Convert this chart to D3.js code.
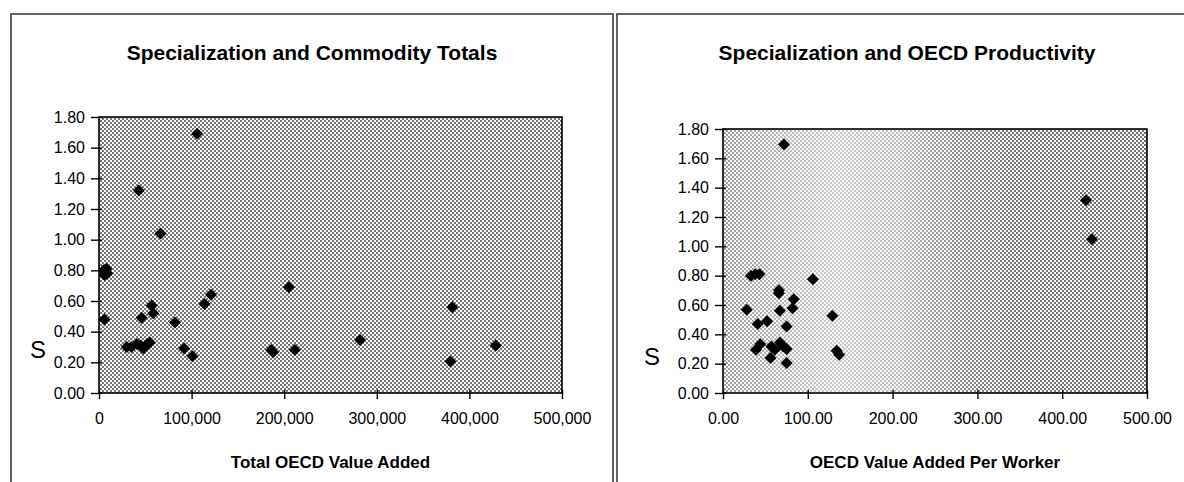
<!DOCTYPE html>
<html><head><meta charset="utf-8">
<script src="https://cdn.jsdelivr.net/npm/d3@7"></script>
<style>
body{margin:0;background:#fff;}
svg{display:block;}
text{font-family:"Liberation Sans",Arial,Helvetica,sans-serif;fill:#000;}
</style>
</head><body>
<svg id="c" width="1184" height="482"></svg>
<script>
// ---- data ----
const leftTitle = "Specialization and Commodity Totals";
const rightTitle = "Specialization and OECD Productivity";
const leftXLabel = "Total OECD Value Added";
const rightXLabel = "OECD Value Added Per Worker";
const yLabel = "S";

const leftX = [5000,8000,6000,9000,5800,43000,66500,46000,57000,58500,82000,92000,101000,114000,121000,30000,35000,41000,45000,48000,52000,55000,106000,186000,188000,211500,205000,282000,381500,379500,428500];
const leftS = [0.80,0.81,0.77,0.78,0.48,1.32,1.04,0.49,0.57,0.52,0.46,0.29,0.24,0.58,0.64,0.30,0.30,0.32,0.31,0.29,0.32,0.33,1.69,0.28,0.265,0.28,0.69,0.345,0.56,0.205,0.31];

const rightX = [33,38,43,66,66,106,28,67,83.5,82,41,52,75,129,44,39,57,67,71,75,56,75,134,137,61,72,428,435];
const rightS = [0.80,0.81,0.81,0.70,0.68,0.775,0.567,0.56,0.64,0.578,0.47,0.49,0.453,0.526,0.333,0.295,0.317,0.344,0.317,0.30,0.238,0.204,0.288,0.26,0.295,1.695,1.315,1.048];

const yTicks = [0,0.2,0.4,0.6,0.8,1.0,1.2,1.4,1.6,1.8];
const leftXTicks = [0,100000,200000,300000,400000,500000];
const rightXTicks = [0,100,200,300,400,500];

// ---- drawing ----
const svg = d3.select("#c");
const defs = svg.append("defs");

const pat = defs.append("pattern").attr("id","dots").attr("patternUnits","userSpaceOnUse")
  .attr("width",4).attr("height",4);
pat.append("rect").attr("width",4).attr("height",4).attr("fill","#f6f6f6");
pat.append("rect").attr("x",0).attr("y",0).attr("width",2).attr("height",2).attr("fill","#767676");
pat.append("rect").attr("x",2).attr("y",2).attr("width",2).attr("height",2).attr("fill","#767676");

const grad = defs.append("linearGradient").attr("id","fadeGrad").attr("x1","0").attr("x2","1").attr("y1","0").attr("y2","0");
[[0,0.7],[0.12,0.5],[0.27,0.32],[0.42,0.45],[0.57,0.85],[0.7,1],[1,1]].forEach(([o,v])=>{
  grad.append("stop").attr("offset",o).attr("stop-color","#fff").attr("stop-opacity",v);
});

// frames
svg.append("path").attr("d","M11,482 L11,14 L613,14 L613,482").attr("fill","none").attr("stroke","#333").attr("stroke-width",1.5);
svg.append("path").attr("d","M617,482 L617,14 L1184,14").attr("fill","none").attr("stroke","#333").attr("stroke-width",1.5);

function chart(cfg){
  const g = svg.append("g");
  const x = d3.scaleLinear().domain([0, cfg.xTicks[cfg.xTicks.length-1]]).range([cfg.left, cfg.right]);
  const y = d3.scaleLinear().domain([0,1.8]).range([cfg.bottom, cfg.top]);
  const w = cfg.right-cfg.left, h = cfg.bottom-cfg.top;

  if(cfg.fade){
    const m = defs.append("mask").attr("id","mask"+cfg.id).attr("maskUnits","userSpaceOnUse");
    m.append("rect").attr("x",cfg.left).attr("y",cfg.top).attr("width",w).attr("height",h).attr("fill","url(#fadeGrad)");
    g.append("rect").attr("x",cfg.left).attr("y",cfg.top).attr("width",w).attr("height",h).attr("fill","#f6f6f6");
    g.append("rect").attr("x",cfg.left).attr("y",cfg.top).attr("width",w).attr("height",h).attr("fill","url(#dots)").attr("mask","url(#mask"+cfg.id+")");
  } else {
    g.append("rect").attr("x",cfg.left).attr("y",cfg.top).attr("width",w).attr("height",h).attr("fill","url(#dots)");
  }
  g.append("rect").attr("x",cfg.left).attr("y",cfg.top).attr("width",w).attr("height",h)
    .attr("fill","none").attr("stroke","#000").attr("stroke-width",1.6);

  // y axis
  const ya = g.append("g").attr("transform",`translate(${cfg.left},0)`)
    .call(d3.axisLeft(y).tickValues(yTicks).tickFormat(d3.format(".2f")).tickSize(8).tickPadding(6));
  ya.select(".domain").remove();
  ya.selectAll(".tick line").attr("x1",3).attr("stroke","#000").attr("stroke-width",1.4);
  ya.selectAll(".tick text").attr("font-size",16).attr("font-family","Liberation Sans, Arial, sans-serif").attr("fill","#000");

  // x axis
  const xa = g.append("g").attr("transform",`translate(0,${cfg.bottom})`)
    .call(d3.axisBottom(x).tickValues(cfg.xTicks).tickFormat(cfg.fmt).tickSize(6).tickPadding(14));
  xa.select(".domain").remove();
  xa.selectAll(".tick line").attr("y1",-3).attr("stroke","#000").attr("stroke-width",1.4);
  xa.selectAll(".tick text").attr("font-size",16).attr("font-family","Liberation Sans, Arial, sans-serif").attr("fill","#000");

  // points
  const sym = d3.symbol(d3.symbolSquare, 72);
  g.append("g").selectAll("path").data(cfg.xs.map((v,i)=>[v,cfg.ys[i]])).join("path")
    .attr("d", sym)
    .attr("transform", d=>`translate(${x(d[0])},${y(d[1])}) rotate(45)`)
    .attr("fill","#000");

  // titles
  svg.append("text").attr("x",cfg.titleX).attr("y",60).attr("text-anchor","middle")
    .attr("font-size",21).attr("font-weight","bold").text(cfg.title);
  svg.append("text").attr("x",(cfg.left+cfg.right)/2).attr("y",468).attr("text-anchor","middle")
    .attr("font-size",17).attr("font-weight","bold").text(cfg.xLabel);
  svg.append("text").attr("x",cfg.sX).attr("y",cfg.sY).attr("text-anchor","middle")
    .attr("font-size",24).text(yLabel);
}

chart({id:"L", left:99, right:562, top:117, bottom:393, xTicks:leftXTicks, fmt:d3.format(","),
  xs:leftX, ys:leftS, title:leftTitle, xLabel:leftXLabel, titleX:312, sX:38, sY:358, fade:false});
chart({id:"R", left:723, right:1147, top:129, bottom:393, xTicks:rightXTicks, fmt:d3.format(".2f"),
  xs:rightX, ys:rightS, title:rightTitle, xLabel:rightXLabel, titleX:907, sX:652, sY:365, fade:true});
</script>
</body></html>
